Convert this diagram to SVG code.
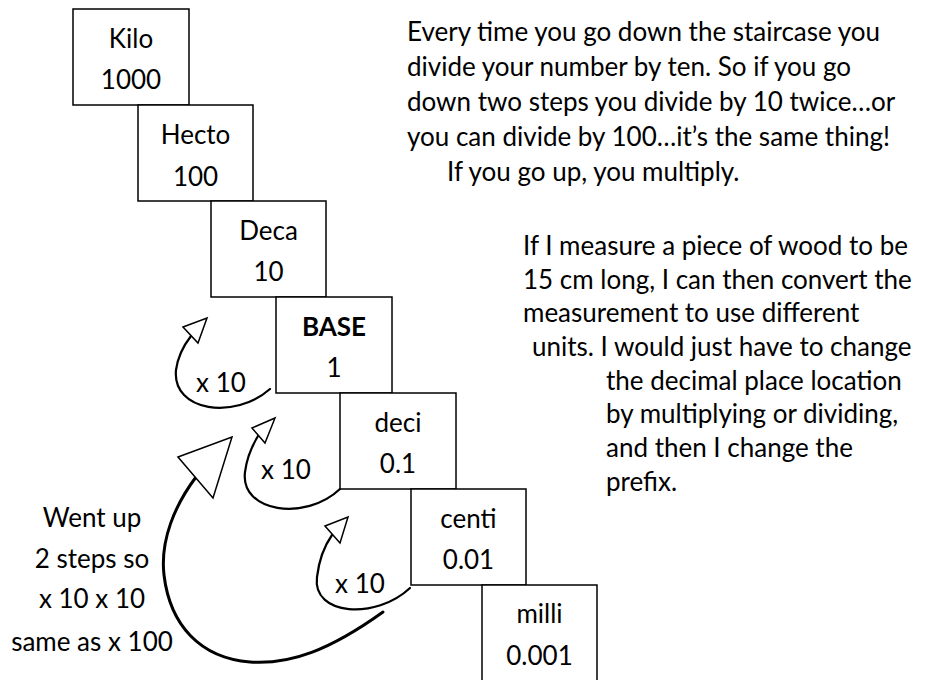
<svg xmlns="http://www.w3.org/2000/svg" width="932" height="680" viewBox="0 0 932 680">
<style>
  text { font-family: Lato, "Open Sans", "Liberation Sans", sans-serif; font-size: 26px; fill: #000; }
  .c { text-anchor: middle; }
  .b { font-weight: bold; }
  .box { fill: #fff; stroke: #000; stroke-width: 1.5; }
  .curve { fill: none; stroke: #000; stroke-width: 2.2; stroke-linecap: round; }
  .big { fill: none; stroke: #000; stroke-width: 3; stroke-linecap: round; }
  .head { fill: #fff; stroke: #000; stroke-width: 1.5; stroke-linejoin: miter; }
</style>
<rect width="932" height="680" fill="#fff"/>

<g id="connectors">
  <path class="curve" d="M270,389 C235,420 172,412 176,370 C178,355 184,345 191,336"/>
  <polygon class="head" points="183,327 207,318 198,343"/>
  <path class="curve" d="M340,489 C305,522 240,512 245,472 C247,456 252,446 258,436"/>
  <polygon class="head" points="252,428 275,418 265,443"/>
  <path class="curve" d="M410,588 C376,620 312,616 317,577 C319,560 325,545 332,535"/>
  <polygon class="head" points="325,526 348,517 340,543"/>
  <path class="big" d="M383,612 C330,650 290,665 250,662 C200,658 170,625 164,575 C160,540 175,505 196,477"/>
  <polygon class="head" points="178,457 232,437 213,498"/>
</g>

<g id="kilo">
  <rect class="box" x="73" y="9" width="116" height="96"/>
  <text class="c" x="131" y="48">Kilo</text>
  <text class="c" x="131" y="89">1000</text>
</g>
<g id="hecto">
  <rect class="box" x="138" y="105" width="115" height="96"/>
  <text class="c" x="195.5" y="144">Hecto</text>
  <text class="c" x="195.5" y="186">100</text>
</g>
<g id="deca">
  <rect class="box" x="211" y="201" width="115" height="96"/>
  <text class="c" x="268.5" y="240">Deca</text>
  <text class="c" x="268.5" y="281">10</text>
</g>
<g id="base">
  <rect class="box" x="276" y="297" width="116" height="96"/>
  <text class="c b" x="334" y="336">BASE</text>
  <text class="c" x="334" y="377">1</text>
</g>
<g id="deci">
  <rect class="box" x="340" y="393" width="116" height="96"/>
  <text class="c" x="398" y="432">deci</text>
  <text class="c" x="398" y="473">0.1</text>
</g>
<g id="centi">
  <rect class="box" x="411" y="489" width="115" height="96"/>
  <text class="c" x="468.5" y="528">centi</text>
  <text class="c" x="468.5" y="569">0.01</text>
</g>
<g id="milli">
  <rect class="box" x="482" y="585" width="115" height="97"/>
  <text class="c" x="539.5" y="623">milli</text>
  <text class="c" x="539.5" y="665">0.001</text>
</g>

<g id="labels">
  <text class="c" x="221" y="392">x 10</text>
  <text class="c" x="286" y="479">x 10</text>
  <text class="c" x="360" y="593">x 10</text>
</g>

<g id="left-note">
  <text class="c" x="92" y="527">Went up</text>
  <text class="c" x="92" y="568">2 steps so</text>
  <text class="c" x="92" y="608">x 10 x 10</text>
  <text class="c" x="92" y="651">same as x 100</text>
</g>

<g id="note-top">
  <text x="407" y="41">Every time you go down the staircase you</text>
  <text x="407" y="76">divide your number by ten. So if you go</text>
  <text x="407" y="111">down two steps you divide by 10 twice…or</text>
  <text x="407" y="146">you can divide by 100…it’s the same thing!</text>
  <text x="447" y="181">If you go up, you multiply.</text>
</g>

<g id="note-right">
  <text x="523" y="255">If I measure a piece of wood to be</text>
  <text x="523" y="289">15 cm long, I can then convert the</text>
  <text x="523" y="322">measurement to use different</text>
  <text x="532" y="356">units. I would just have to change</text>
  <text x="606" y="390">the decimal place location</text>
  <text x="606" y="423">by multiplying or dividing,</text>
  <text x="606" y="457">and then I change the</text>
  <text x="606" y="491">prefix.</text>
</g>
</svg>
